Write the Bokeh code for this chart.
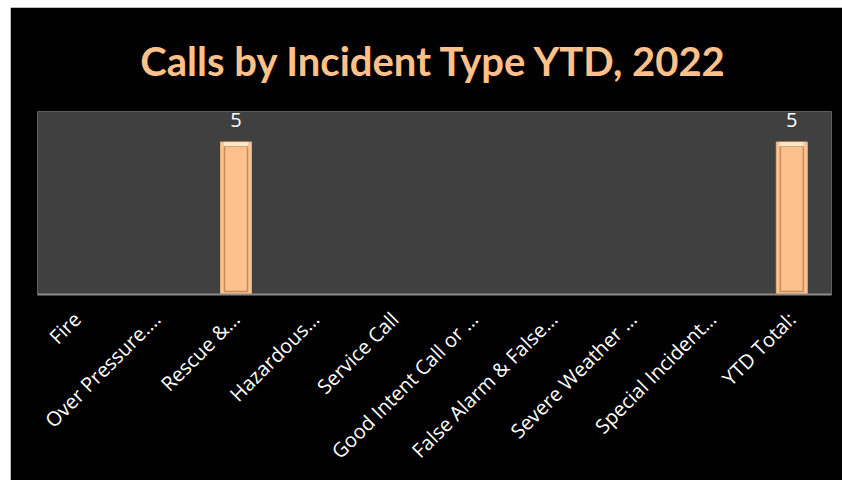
import math
from bokeh.plotting import figure
from bokeh.models import ColumnDataSource, LabelSet, CDSView, BooleanFilter
from bokeh.core.properties import value
from bokeh.embed import file_html
from bokeh.resources import INLINE

categories = ["Fire", "Over Pressure.…", "Rescue &…", "Hazardous…", "Service Call",
              "Good Intent Call or …", "False Alarm & False…", "Severe Weather …",
              "Special Incident…", "YTD Total:"]
values = [0, 0, 5, 0, 0, 0, 0, 0, 0, 5]
labels = ["", "", "5", "", "", "", "", "", "", "5"]

src = ColumnDataSource(dict(cat=categories, val=values, lab=labels,
                            inner=[max(v - 0.14, 0) for v in values],
                            hi=[max(v - 0.14, 0) for v in values],
                            lo=[min(0.1, v) for v in values]))
view = CDSView(filter=BooleanFilter([v > 0 for v in values]))

p = figure(x_range=categories, y_range=(0, 6), width=832, height=473,
           output_backend="svg", toolbar_location=None,
           min_border_left=27, min_border_right=11, min_border_top=104, min_border_bottom=186)
p.margin = (7, 0, 0, 10)

p.title.text = "Calls by Incident Type YTD, 2022"
p.title.text_font = "Lato"
p.title.text_font_style = "bold"
p.title.text_font_size = "40px"
p.title.text_color = "#FFC08A"
p.title.align = "center"
p.title.standoff = 54

p.border_fill_color = "black"
p.background_fill_color = "#404040"
p.outline_line_color = None
p.xgrid.grid_line_color = None
p.ygrid.grid_line_color = None
p.yaxis.visible = False

p.xaxis.axis_line_color = "#8C8C8C"
p.xaxis.axis_line_width = 2
p.xaxis.major_tick_line_color = None
p.xaxis.minor_tick_line_color = None
p.xaxis.major_label_orientation = math.pi / 4
p.xaxis.major_label_text_color = "white"
p.xaxis.major_label_text_font = "Open Sans"
p.xaxis.major_label_text_font_size = "20px"
p.xaxis.major_label_standoff = 15

# bevelled bars
p.vbar(x="cat", top="val", width=0.39, source=src, view=view,
       fill_color="#FAC38F", line_color="#E8B080", line_width=1)
p.vbar(x="cat", top="inner", bottom="lo", width=0.29, source=src, view=view,
       fill_color="#FBC08C", line_color="#C88C5C", line_width=1.5)
p.vbar(x="cat", top="val", bottom="hi", width=0.31, source=src, view=view,
       fill_color="#FFE6C6", line_color=None)

lbl = LabelSet(x="cat", y="val", text="lab", source=src, text_align="center",
               text_baseline="bottom", y_offset=15, text_color="white",
               text_font=value("Open Sans"), text_font_size=value("20px"))
p.add_layout(lbl)

open("out.html", "w").write(file_html(p, INLINE))
